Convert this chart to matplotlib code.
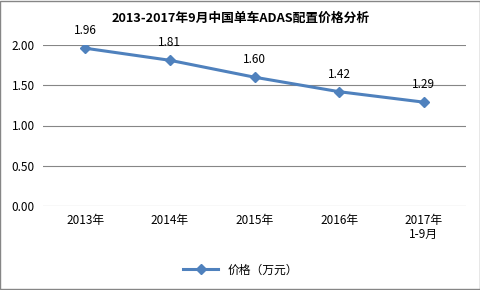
import matplotlib
matplotlib.use("Agg")
import matplotlib.pyplot as plt
import numpy as np
from matplotlib.patches import Rectangle

plt.rcParams['font.family'] = ['Noto Sans CJK SC', 'DejaVu Sans']

# 数据
categories = ["2013年", "2014年", "2015年", "2016年", "2017年\n1-9月"]
prices = [1.96, 1.81, 1.60, 1.42, 1.29]
series_name = "价格（万元）"
title = "2013-2017年9月中国单车ADAS配置价格分析"

line_color = "#4F81BD"
grid_color = "#868686"

fig = plt.figure(figsize=(4.81, 2.90), dpi=100)
ax = fig.add_axes([43 / 481, 1 - 206 / 290, 423 / 481, 161 / 290])

x = np.arange(len(categories))
ax.plot(x, prices, color=line_color, linewidth=2.2, marker="D", markersize=5,
        label=series_name, zorder=3)
for xi, v in zip(x, prices):
    ax.annotate(f"{v:.2f}", (xi, v), xytext=(0, 8), textcoords="offset points",
                ha="center", va="bottom", fontsize=8.5)

ax.set_xlim(-0.5, len(categories) - 0.5)
ax.set_ylim(0, 2.0)
ax.set_yticks(np.arange(0, 2.01, 0.5))
ax.set_yticklabels([f"{t:.2f}" for t in np.arange(0, 2.01, 0.5)], fontsize=8.5)
ax.set_xticks(x)
ax.set_xticklabels(categories, fontsize=8.5, linespacing=1.1)
ax.tick_params(length=0, pad=6)
ax.yaxis.grid(True, color=grid_color, linewidth=0.8)
ax.set_axisbelow(True)
for s in ax.spines.values():
    s.set_visible(False)

fig.text(0.5, 1 - 18 / 290, title, ha="center", va="center", fontsize=9.2,
         fontweight="bold")
fig.legend(loc="center", bbox_to_anchor=(0.5, 1 - 270 / 290), frameon=False,
           fontsize=8.5, handlelength=3)

fig.patches.append(Rectangle((0.001, 0.002), 0.997, 0.995, transform=fig.transFigure,
                             fill=False, edgecolor="#868686", linewidth=1.0))

fig.savefig("out.png", dpi=100)
